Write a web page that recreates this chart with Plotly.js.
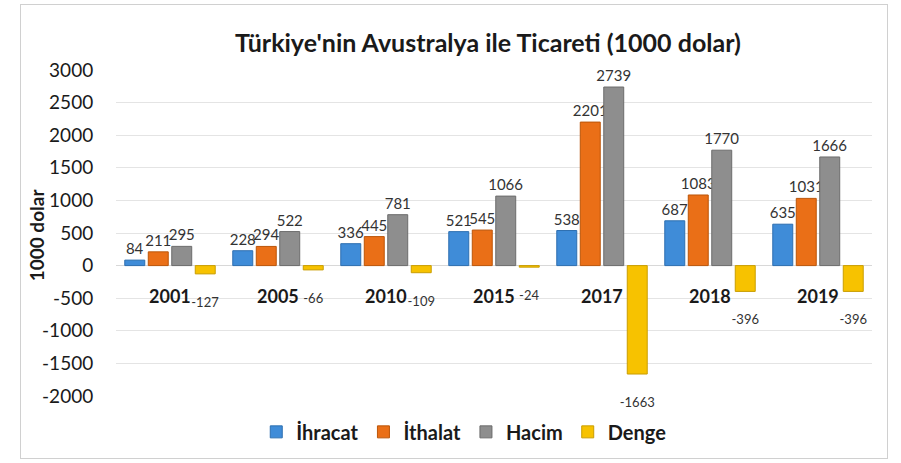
<!DOCTYPE html>
<html><head><meta charset="utf-8">
<script src="https://cdn.plot.ly/plotly-3.0.1.min.js"></script>
<style>
html,body{margin:0;padding:0;background:#fff;}
#wrap{position:relative;width:901px;height:463px;}
#chart{width:901px;height:463px;}
#frame{position:absolute;left:20px;top:4px;width:868px;height:455px;border:1.5px solid #d0d0d0;pointer-events:none;box-sizing:border-box;}
</style></head>
<body>
<div id="wrap"><div id="chart"></div><div id="frame"></div></div>
<script>
const years = ['2001','2005','2010','2015','2017','2018','2019'];
const ihracat = [84, 228, 336, 521, 538, 687, 635];
const ithalat = [211, 294, 445, 545, 2201, 1083, 1031];
const hacim = [295, 522, 781, 1066, 2739, 1770, 1666];
const denge = [-127, -66, -109, -24, -1663, -396, -396];
const seriesNames = ['İhracat', 'İthalat', 'Hacim', 'Denge'];
const yTicks = [-2000, -1500, -1000, -500, 0, 500, 1000, 1500, 2000, 2500, 3000];

const FONT = 'Lato, "Open Sans", sans-serif';
const colors = ['#3f8cd8', '#ea6f17', '#8e8e8e', '#f7c200'];
const lines = ['#2d6fb0', '#bb5509', '#6c6c6c', '#c99d00'];
const data = [ihracat, ithalat, hacim, denge].map((vals, i) => ({
  type: 'bar', name: seriesNames[i], x: years, y: vals,
  marker: {color: colors[i], line: {color: lines[i], width: 1}},
  text: vals.map(v => i === 3 ? '\u00a0<br>' + v : String(v)),
  textposition: 'outside', constraintext: 'none',
  textfont: {family: FONT, size: i === 3 ? 13 : 15, color: '#333'},
  cliponaxis: false
}));

const annotations = years.map((yr, i) => ({
  x: i, y: 0, xref: 'x', yref: 'y', yshift: -30, text: '<b>' + yr + '</b>',
  showarrow: false, font: {family: FONT, size: 18, color: '#1a1a1a'}, yanchor: 'middle'
}));
annotations.push({
  text: '<b>1000 dolar</b>', textangle: -90, xref: 'paper', yref: 'paper',
  x: -0.104, xanchor: 'center', y: 0.494, yanchor: 'middle', showarrow: false,
  font: {family: FONT, size: 19, color: '#1a1a1a'}
});

const layout = {
  width: 901, height: 463,
  margin: {l: 116, r: 29, t: 70, b: 63},
  paper_bgcolor: '#fff', plot_bgcolor: '#fff',
  title: {text: "<b>Türkiye'nin Avustralya ile Ticareti (1000 dolar)</b>",
    font: {family: FONT, size: 25, color: '#1a1a1a'},
    x: 0.492, xref: 'paper', xanchor: 'center', y: 0.907, yref: 'container', yanchor: 'middle'},
  barmode: 'group', bargap: 0.13, bargroupgap: 0.15,
  xaxis: {type: 'category', range: [-0.5, years.length - 0.5], autorange: false,
    showticklabels: false, showgrid: false, zeroline: false, showline: false, ticks: ''},
  yaxis: {range: [-2000, 3000], autorange: false, tickvals: yTicks, ticktext: yTicks.map(String),
    showgrid: true, gridcolor: '#e4e4e4', gridwidth: 1, zeroline: true, zerolinecolor: '#d8d8d8', zerolinewidth: 1,
    showline: false, ticks: 'outside', ticklen: 18, tickcolor: 'rgba(0,0,0,0)',
    tickfont: {family: FONT, size: 19, color: '#1a1a1a'}},
  showlegend: true,
  legend: {orientation: 'h', x: 0.46, xanchor: 'center', y: -0.11, yanchor: 'middle',
    font: {family: FONT, size: 20, color: '#1a1a1a', weight: 'bold'}, itemwidth: 30, traceorder: 'normal'},
  annotations: annotations
};

Plotly.newPlot('chart', data, layout, {displayModeBar: false, staticPlot: true});
</script>
</body></html>
